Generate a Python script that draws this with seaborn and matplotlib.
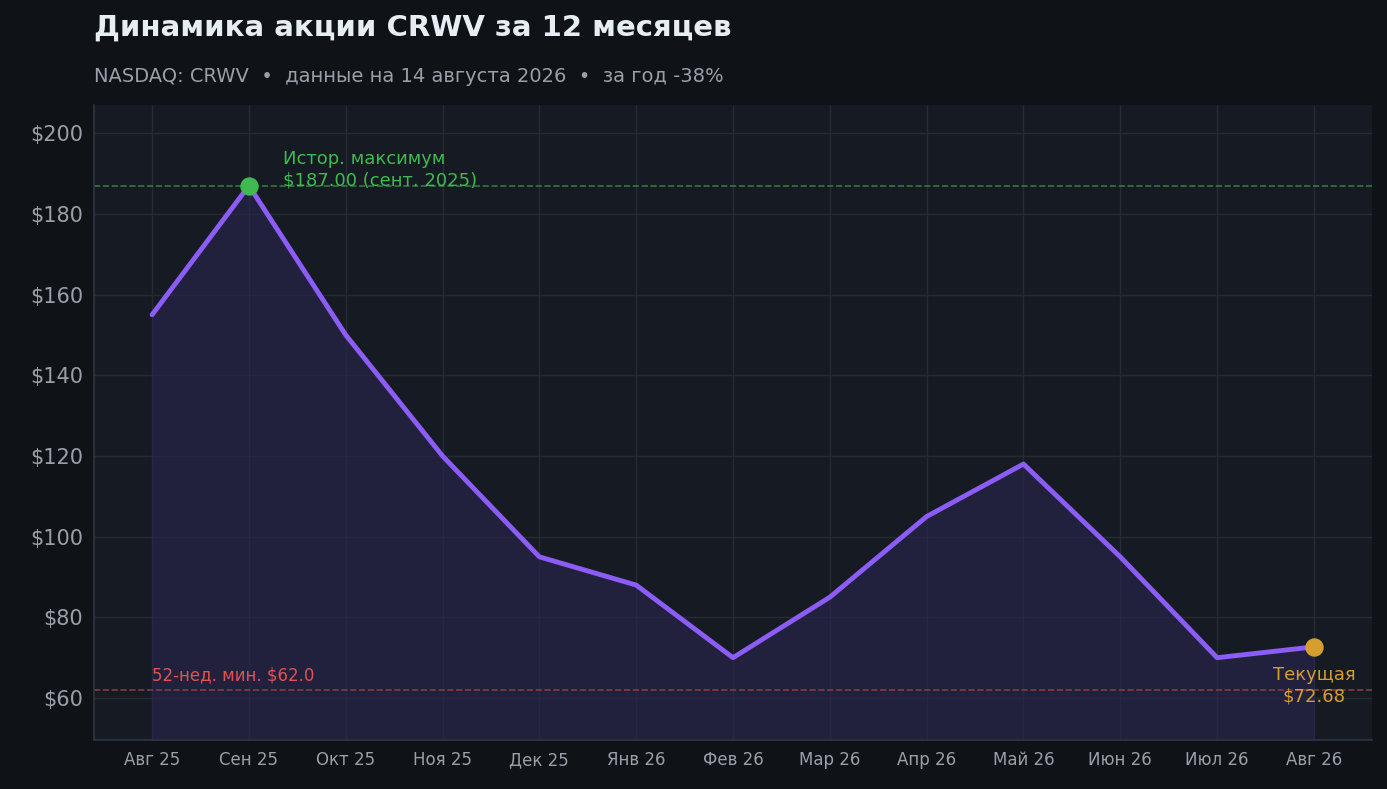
import matplotlib
matplotlib.use("Agg")
import matplotlib.pyplot as plt
import seaborn as sns
import pandas as pd

months = ["Авг 25","Сен 25","Окт 25","Ноя 25","Дек 25","Янв 26","Фев 26","Мар 26","Апр 26","Май 26","Июн 26","Июл 26","Авг 26"]
prices = [155, 187, 150, 120, 95, 88, 70, 85, 105, 118, 95, 70, 72.68]
ath = 187.0
low52 = 62.0
yticks = [60, 80, 100, 120, 140, 160, 180, 200]

sns.set_theme(style="dark")
plt.rcParams['font.family'] = ['DejaVu Sans']

fig = plt.figure(figsize=(13.87, 7.89), dpi=100, facecolor="#0f1317")
ax = fig.add_axes([94/1387, 1-740/789, (1372-94)/1387, (740-105)/789])
ax.set_facecolor("#161a23")
df = pd.DataFrame({"x": range(len(months)), "y": prices})
ax.fill_between(df.x, df.y, 49.6, color="#2a2650", alpha=0.6, zorder=1)
sns.lineplot(data=df, x="x", y="y", ax=ax, color="#8b5cf6", linewidth=3.5, zorder=3)
ax.axhline(ath, color="#2f7a3f", ls="--", lw=1.2, zorder=2)
ax.axhline(low52, color="#8a3a3a", ls="--", lw=1.2, zorder=2)
ax.scatter([1], [prices[1]], s=150, color="#3fb950", zorder=4)
ax.scatter([12], [prices[12]], s=150, color="#d69e2e", zorder=4)
ax.text(1.35, 186, f"Истор. максимум\n${ath:.2f} (сент. 2025)", color="#3fb950", fontsize=13, va="bottom", linespacing=1.3)
ax.text(12, 68, f"Текущая\n${prices[12]:.2f}", color="#d69e2e", fontsize=13, ha="center", va="top", linespacing=1.3)
ax.text(0, 63.5, f"52-нед. мин. ${low52:.1f}", color="#e05252", fontsize=12, va="bottom")

ax.set_xlim(-0.6, 12.6)
ax.set_ylim(49.6, 207)
ax.set_xticks(range(len(months)))
ax.set_xticklabels(months, color="#9aa0aa", fontsize=12)
ax.set_yticks(yticks)
ax.set_yticklabels([f"${v}" for v in yticks], color="#9aa0aa", fontsize=15)
ax.set_xlabel(""); ax.set_ylabel("")
ax.grid(True, color="#252a35", lw=1)
ax.tick_params(length=0, pad=8)
for s in ["top", "right"]:
    ax.spines[s].set_visible(False)
for s in ["left", "bottom"]:
    ax.spines[s].set_color("#2e3440")

fig.text(94/1387, 1-28/789, "Динамика акции CRWV за 12 месяцев", color="#e6edf3", fontsize=21, fontweight="bold", va="center")
fig.text(94/1387, 1-77/789, "NASDAQ: CRWV  •  данные на 14 августа 2026  •  за год -38%", color="#9aa0aa", fontsize=14, va="center")
fig.savefig("out.png", dpi=100, facecolor=fig.get_facecolor())
